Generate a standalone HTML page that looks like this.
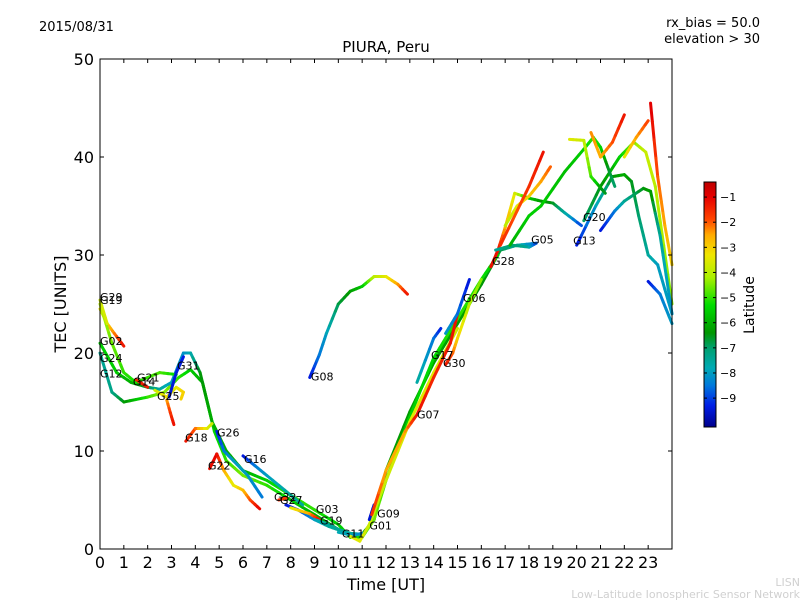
<!DOCTYPE html>
<html><head><meta charset="utf-8"><style>
body{margin:0;background:#fff;}
svg text{font-family:"DejaVu Sans","Liberation Sans",sans-serif;}
</style></head><body>
<svg id="chart" width="800" height="600" xmlns="http://www.w3.org/2000/svg">
<defs><linearGradient id="cbgrad" x1="0" y1="1" x2="0" y2="0"></linearGradient></defs>
<text x="39" y="31" font-size="13">2015/08/31</text>
<text x="760" y="27" font-size="13" text-anchor="end">rx_bias = 50.0</text>
<text x="760" y="43" font-size="13" text-anchor="end">elevation &gt; 30</text>
<text x="386" y="52" font-size="15" text-anchor="middle">PIURA, Peru</text>
<g id="marks"></g>
<g id="axes"></g>
<text x="386" y="590" font-size="16" text-anchor="middle">Time [UT]</text>
<text transform="translate(66,304) rotate(-90)" font-size="16" text-anchor="middle">TEC [UNITS]</text>
<text transform="translate(754,305) rotate(-90)" font-size="14" text-anchor="middle">Latitude</text>
<text x="800" y="586" font-size="11" fill="#d0d0d0" text-anchor="end">LISN</text>
<text x="800" y="598" font-size="11" fill="#d0d0d0" text-anchor="end">Low-Latitude Ionospheric Sensor Network</text>
</svg>
<script>
const xTicks=[0,1,2,3,4,5,6,7,8,9,10,11,12,13,14,15,16,17,18,19,20,21,22,23];
const yTicks=[0,10,20,30,40,50];
const cbTicks=[-1,-2,-3,-4,-5,-6,-7,-8,-9];
const latMin=-10.15, latMax=-0.4;
// tracks: [time, tec, latitude]
const trackNames=["G12","G24","G02","G29","G19a","G14","G25","G31","G25b","G18","G22","G16","G26","G32","G27","G03","G19","G11","G01","G09","G08","G07","G30","G17","G06","G28","G05","G13","G20","G13b","R1","R2","R3","R4","R5","R6","R7","R8"];
const tracks=[
[[0,20,-7.5],[0.5,16,-7.3],[1,15,-6.5],[2,15.5,-5],[2.7,16,-4.3],[3.3,17.5,-5],[3.8,18.3,-5.5],[4.3,17,-6],[4.8,12,-5.5],[5.3,9,-5],[6,7.5,-4.5],[7,6.5,-5],[8,5,-5.5],[9,3.5,-6],[10,2,-6.3],[10.5,1.5,-6.5],[11,1.5,-6.5],[11.5,3,-6.5],[12,8,-6.3],[13,14,-6.3],[14,19,-6.2],[15,23,-6.3],[16,27,-6.4],[16.8,30.5,-6.7],[17.5,31,-7.5],[18.3,31.2,-8.5]],
[[0,21,-5.5],[0.7,18,-5.5],[1.3,17,-6],[2,16.5,-6.8],[2.5,16.3,-7.5],[3,17,-8],[3.5,20,-8.2],[3.8,20,-7.8],[4.2,18,-6.5],[4.7,13,-6],[5.3,10,-6],[6,8,-6],[7,7,-5.5],[8,5.5,-5],[9,4,-5],[10,2.5,-5.5],[10.5,1.2,-5.5],[11,1.2,-5],[11.5,3,-4.5],[12,7,-5],[13,13.5,-5.5],[14,19.5,-5.3],[15,23.5,-5],[16,27.5,-5.2],[16.7,30,-5.6]],
[[0,24.5,-3.5],[0.3,23,-3],[0.6,22,-2.3],[1,20.7,-1.2]],
[[0,25,-4],[0.5,21,-4.6],[1,18,-5],[1.5,17,-5.2],[2,17.5,-5],[2.5,18,-4.8],[3.2,17.8,-5.3]],
[[0,25.4,-3.8],[0.3,23,-3.6]],
[[1.5,17.3,-1.5],[2,16.5,-1.3]],
[[2.3,16.2,-3.8],[2.8,15.5,-3.2],[3.2,16.5,-3.5],[3.5,16,-3],[3.4,15.3,-3]],
[[2.9,15.5,-9.5],[3.2,18,-9.4],[3.5,19.6,-9.3]],
[[2.8,15.2,-2.5],[3,13.5,-1.5],[3.1,12.7,-1.2]],
[[3.6,11,-1.2],[4,12.3,-2],[4.5,12.3,-3.5],[4.7,12.8,-3.8]],
[[4.6,8.2,-1.2],[4.9,9.7,-1],[5.2,8,-2.5],[5.6,6.5,-3.5],[6,6,-2.8],[6.3,5,-2],[6.7,4.1,-1]],
[[6,9.5,-9.5],[6.5,8.5,-8.5],[7,7.5,-8],[8,5.5,-7.5],[8.5,4.5,-7.5]],
[[4.9,12,-9.5],[5.2,10,-8.5],[5.6,9,-8],[6.2,7.5,-8],[6.8,5.3,-8.5]],
[[7.5,5,-1.5],[7.8,5.2,-1.8]],
[[7.8,4.5,-9.5],[8.3,4,-9],[9,3,-8.2],[9.6,2.3,-7.5],[10.2,1.8,-7.5]],
[[8,4.2,-3.5],[8.8,3.6,-2.5],[9.2,3,-1.2]],
[[9,3,-8],[9.5,2.6,-7.5],[10,2,-7.5],[10.5,1.6,-7.5],[11,1.5,-7.5]],
[[10,1.7,-7.8],[10.6,1.4,-8],[11,1.6,-8.3]],
[[10.5,1.3,-3.5],[10.9,0.8,-3.5],[11.3,2.5,-3.8],[12,7,-3.8],[13,13,-3.5],[14,18,-3.5],[15,22.5,-3.8]],
[[11.3,3,-9.5],[11.5,4.5,-9.5]],
[[8.8,17.5,-9.5],[9.2,19.8,-8.5],[9.5,22,-8],[10,25,-6.8],[10.5,26.3,-6.3],[11,26.8,-5.7],[11.5,27.8,-4],[12,27.8,-3.5],[12.5,27,-2.5],[12.9,26,-1.2]],
[[11.4,3.5,-1.5],[12,8,-2.5],[12.8,12,-2.5],[13.3,13.7,-1.2],[14,17.5,-1.5],[14.7,21,-1.3],[15,24,-1.2]],
[[14.5,18.8,-1.2],[14.8,20,-2],[15,21.5,-3],[15.5,25,-4],[16,27.5,-4.5]],
[[13.3,17,-7.5],[14,21.5,-8.5],[14.3,22.5,-9.3]],
[[14.5,22,-8],[15,24,-8.5],[15.5,27.5,-9.5]],
[[16.4,28.8,-1.2],[16.7,30.5,-1.2],[17,32.8,-2.5],[17.4,36.3,-3.5],[18,35.8,-5.5],[18.5,35.5,-6.3],[19,35.3,-6.5],[19.5,34.3,-7.5],[20.2,33,-9]],
[[16.6,30.5,-7.5],[17.3,31,-7],[18,30.8,-7.5],[18.3,31.2,-9]],
[[20,31,-9.5],[20.8,35,-8],[21.5,38,-6.5],[22,38.2,-6],[22.3,37.5,-6.5],[22.6,34,-7],[23,30,-7.5],[23.4,29,-8],[24,24,-8]],
[[20.3,33.5,-7],[21,37,-6.5],[21.8,40,-5.5],[22.4,41.5,-4.5],[22.9,40.5,-3.8],[23.3,37,-4],[24,25,-4.5]],
[[21,32.5,-9.5],[21.6,34.5,-8.5],[22,35.5,-7.5],[22.8,36.8,-6.5],[23.1,36.5,-6.2],[23.5,32,-7.5],[24,24,-8.2]],
[[17,33,-4],[17.5,35,-3.5],[18,36,-3],[18.5,37.5,-2.5],[18.9,39,-2]],
[[16.8,31,-1.5],[17.5,34.5,-2],[18,37,-1.6],[18.6,40.5,-1.2]],
[[17.2,31,-6],[18,34,-5.5],[18.5,35,-5.5],[19.5,38.5,-5.8],[20.3,40.8,-5.5],[20.7,42,-5],[21,41,-5.3],[21.3,39,-6.5],[21.6,37,-7]],
[[19.7,41.8,-3.5],[20.3,41.7,-3.8],[20.6,38,-4.8],[21.2,36.3,-6.8]],
[[20.6,42.5,-2.3],[21,40,-2.6],[21.5,41.5,-2],[22,44.3,-1.2]],
[[22,40,-3.5],[22.5,42,-2.5],[23,43.7,-1.8]],
[[23.1,45.5,-0.8],[23.4,38,-2],[23.7,33,-2.5],[24,29,-3]],
[[23,27.3,-9.5],[23.5,26,-8.5],[24,23,-8]]
];
const labelNames=["G29","G19","G02","G24","G12","G14","G21","G25","G31","G18","G26","G22","G16","G32","G27","G03","G19","G01","G09","G11","G08","G07","G17","G30","G06","G28","G05","G13","G20"];
const labelT=[0,0,0,0,0,1.38,1.55,2.39,3.23,3.57,4.91,4.53,6.04,7.3,7.55,9.06,9.23,11.3,11.63,10.15,8.85,13.3,13.89,14.39,15.23,16.45,18.09,19.85,20.27];
const labelTec=[25.7,25.4,21.2,19.5,17.9,17.1,17.5,15.6,18.7,11.4,11.9,8.5,9.2,5.3,5.0,4.1,2.9,2.4,3.6,1.6,17.6,13.7,19.8,19.0,25.6,29.4,31.6,31.5,33.9];

const X0=100,X1=672,Y0=549,Y1=59;
const xs=t=>X0+t*(X1-X0)/24;
const ys=v=>Y0-v*(Y0-Y1)/50;
const stops=[[-10.15,[0,0,140]],[-9.3,[0,30,230]],[-8.5,[0,120,220]],[-7.8,[0,170,180]],[-7,[0,160,110]],[-6.4,[0,150,0]],[-5.3,[0,220,0]],[-4.2,[170,240,0]],[-3.3,[240,230,0]],[-2.5,[255,170,0]],[-1.9,[255,70,0]],[-1,[230,0,0]],[-0.4,[190,0,0]]];
function col(l){
  if(l<=stops[0][0])return 'rgb('+stops[0][1]+')';
  for(let i=1;i<stops.length;i++){ if(l<=stops[i][0]){const a=stops[i-1],b=stops[i],f=(l-a[0])/(b[0]-a[0]);
    return 'rgb('+a[1].map((c,k)=>Math.round(c+f*(b[1][k]-c))).join(',')+')';}}
  return 'rgb('+stops[stops.length-1][1]+')';
}
const NS='http://www.w3.org/2000/svg';
const marks=document.getElementById('marks');
const axes=document.getElementById('axes');
function mk(tag,attrs,parent){const e=document.createElementNS(NS,tag);for(const k in attrs)e.setAttribute(k,attrs[k]);parent.appendChild(e);return e;}
tracks.forEach((tr,ti)=>{
  const g=mk('g',{},marks);
  
  
  for(let i=1;i<tr.length;i++){
    const a=tr[i-1],b=tr[i];
    const n=4;
    for(let k=0;k<n;k++){
      const f0=k/n,f1=(k+1)/n;
      const l=mk('line',{x1:xs(a[0]+(b[0]-a[0])*f0),y1:ys(a[1]+(b[1]-a[1])*f0),x2:xs(a[0]+(b[0]-a[0])*f1),y2:ys(a[1]+(b[1]-a[1])*f1),stroke:col(a[2]+(b[2]-a[2])*(f0+f1)/2),'stroke-width':3,'stroke-linecap':'round'},g);
      
      
    }
  }
});
labelNames.forEach((n,i)=>{
  const t=mk('text',{x:xs(labelT[i]),y:ys(labelTec[i])+4,'font-size':11},marks);
  t.textContent=n;
  
  
});
const frame=mk('rect',{x:X0,y:Y1,width:X1-X0,height:Y0-Y1,fill:'none',stroke:'#000','stroke-width':1},axes);


xTicks.forEach(t=>{
  const x=xs(t);
  mk('line',{x1:x,y1:Y0,x2:x,y2:Y0-4,stroke:'#000'},axes);
  mk('line',{x1:x,y1:Y1,x2:x,y2:Y1+4,stroke:'#000'},axes);
  const tx=mk('text',{x:x,y:Y0+19,'font-size':16,'text-anchor':'middle'},axes);
  tx.textContent=t;
  
  
});
yTicks.forEach(v=>{
  const y=ys(v);
  mk('line',{x1:X0,y1:y,x2:X0+4,y2:y,stroke:'#000'},axes);
  mk('line',{x1:X1,y1:y,x2:X1-4,y2:y,stroke:'#000'},axes);
  const tx=mk('text',{x:X0-6,y:y+6,'font-size':16,'text-anchor':'end'},axes);
  tx.textContent=v;
  
  
});
const CB0=427,CB1=182,cbx=704,cbw=12;
const cy=l=>CB0-(l-latMin)*(CB0-CB1)/(latMax-latMin);
const grad=document.getElementById('cbgrad');
stops.forEach(s=>{mk('stop',{offset:((s[0]-latMin)/(latMax-latMin)).toFixed(4),'stop-color':'rgb('+s[1]+')'},grad);});
const cb=mk('rect',{x:cbx,y:CB1,width:cbw,height:CB0-CB1,fill:'url(#cbgrad)',stroke:'#000','stroke-width':1},axes);


cbTicks.forEach(v=>{
  const y=cy(v);
  mk('line',{x1:cbx+cbw,y1:y,x2:cbx+cbw-3,y2:y,stroke:'#000'},axes);
  mk('line',{x1:cbx,y1:y,x2:cbx+3,y2:y,stroke:'#000'},axes);
  const tx=mk('text',{x:cbx+cbw+4,y:y+4,'font-size':11},axes);
  tx.textContent='\u2212'+Math.abs(v);
  
  
});
</script>
</body></html>
